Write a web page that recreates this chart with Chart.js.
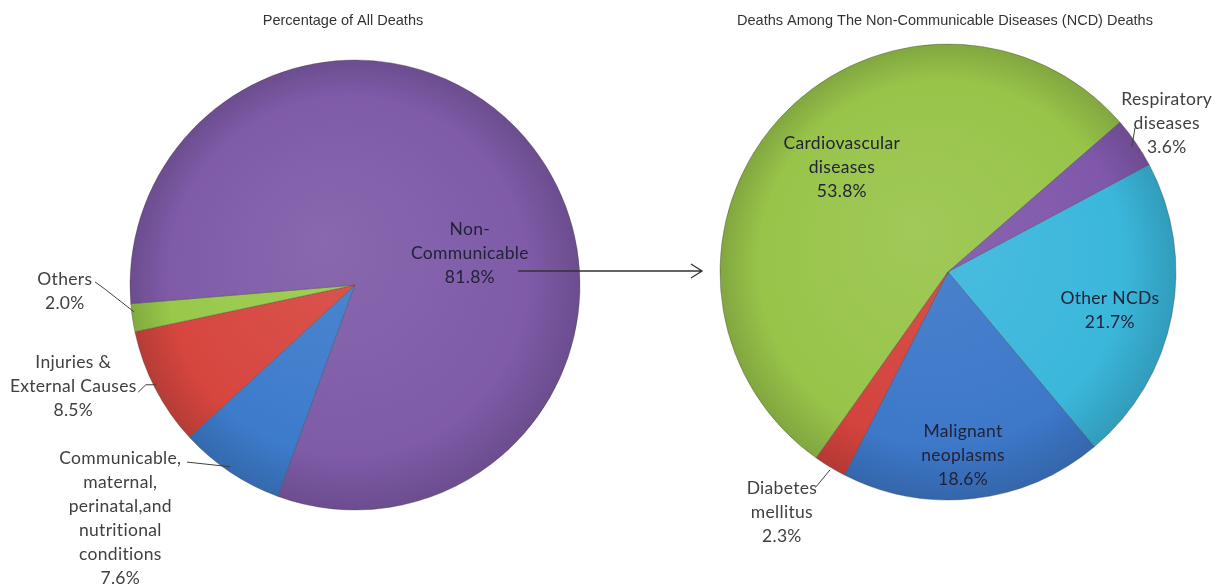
<!DOCTYPE html>
<html>
<head>
<meta charset="utf-8">
<script src="https://cdn.jsdelivr.net/npm/chart.js@4.4.1/dist/chart.umd.min.js"></script>
<style>
  body { margin: 0; background: #fff; width: 1217px; height: 585px; overflow: hidden; }
  #left { position: absolute; left: 0; top: 0; }
  #right { position: absolute; left: 705px; top: 0; }
</style>
</head>
<body>
<canvas id="left" width="720" height="585"></canvas>
<canvas id="right" width="512" height="585"></canvas>
<script>
// ---- data ----
const allTitle = 'Percentage of All Deaths';
const allCategories = ['Communicable, maternal, perinatal,and nutritional conditions', 'Injuries & External Causes', 'Others', 'Non-Communicable'];
const allValues = [7.6, 8.5, 2.0, 81.8];
const allColors = ['#3d7bcb', '#d6463f', '#98c94a', '#7f5ba8'];

const ncdTitle = 'Deaths Among The Non-Communicable Diseases (NCD) Deaths';
const ncdCategories = ['Cardiovascular diseases', 'Respiratory diseases', 'Other NCDs', 'Malignant neoplasms', 'Diabetes mellitus'];
const ncdValues = [53.8, 3.6, 21.7, 18.6, 2.3];
const ncdColors = ['#98c44a', '#8058ab', '#3bb7dc', '#3d78c9', '#d4433d'];

// label text lines for each slice (same order as categories)
const allLabelLines = [
  ['Communicable,', 'maternal,', 'perinatal,and', 'nutritional', 'conditions'],
  ['Injuries &', 'External Causes'],
  ['Others'],
  ['Non-', 'Communicable']
];
const ncdLabelLines = [
  ['Cardiovascular', 'diseases'],
  ['Respiratory', 'diseases'],
  ['Other NCDs'],
  ['Malignant', 'neoplasms'],
  ['Diabetes', 'mellitus']
];

// label placement: polar (deg clockwise from top, fraction of radius), optional leader
const allLabelPos = [
  { a: 225.2, d: 1.47, leader: [[223.5, 1.085], [214.5, 0.98]], outside: true },
  { a: 250.3, d: 1.33, leader: [[243.7, 1.075], [244.5, 1.03], [243.4, 0.99]], outside: true },
  { a: 268.8, d: 1.29, leader: [[270.7, 1.156], [269.0, 1.11], [263.1, 0.99]], outside: true },
  { a: 74.4, d: 0.53 }
];
const ncdLabelPos = [
  { a: 314.7, d: 0.655 },
  { a: 55.8, d: 1.16, leader: [[52.4, 1.035], [55.8, 0.975]], outside: true },
  { a: 103.5, d: 0.73 },
  { a: 175.3, d: 0.805 },
  { a: 214.7, d: 1.28, leader: [[211.6, 1.11], [210.8, 1.01]], outside: true }
];

const FONT = '17.5px Lato, "Open Sans", sans-serif';

const shade = (hex, f) => {
  const n = parseInt(hex.slice(1), 16);
  let r = (n >> 16) & 255, g = (n >> 8) & 255, b = n & 255;
  const m = v => Math.max(0, Math.min(255, Math.round(f > 0 ? v + (255 - v) * f : v * (1 + f))));
  return `rgb(${m(r)},${m(g)},${m(b)})`;
};

const gradientFill = (colors) => (ctx) => {
  const chart = ctx.chart;
  const area = chart.chartArea;
  const base = colors[ctx.dataIndex];
  if (!area) return base;
  const cx = (area.left + area.right) / 2;
  const cy = (area.top + area.bottom) / 2;
  const r = chart.options.radius || Math.min(area.width, area.height) / 2;
  const g = chart.ctx.createRadialGradient(cx - r * 0.15, cy - r * 0.2, 0, cx, cy, r);
  g.addColorStop(0, shade(base, 0.08));
  g.addColorStop(0.8, base);
  g.addColorStop(1, shade(base, -0.15));
  return g;
};

const polar = (arc, a, d) => {
  const t = a * Math.PI / 180;
  return [arc.x + Math.sin(t) * arc.outerRadius * d, arc.y - Math.cos(t) * arc.outerRadius * d];
};

const labelPlugin = {
  id: 'sliceLabels',
  afterDraw(chart) {
    const o = chart.options.plugins.sliceLabels;
    const ctx = chart.ctx;
    const meta = chart.getDatasetMeta(0);
    const values = chart.data.datasets[0].data;
    ctx.save();
    // title
    ctx.font = '14.5px "Liberation Sans", Arial, sans-serif';
    ctx.fillStyle = '#333';
    ctx.textAlign = 'center';
    ctx.textBaseline = 'middle';
    ctx.fillText(o.title, o.titleX, 21);

    ctx.font = FONT;
    ctx.letterSpacing = '0.3px'; // also stops the "ti" ligature
    meta.data.forEach((arc, i) => {
      const p = o.pos[i];
      const lines = o.lines[i].concat([values[i].toFixed(1) + '%']);
      const [x, y] = polar(arc, p.a, p.d);
      const lh = 24;
      ctx.fillStyle = p.outside ? '#404040' : '#222238';
      lines.forEach((ln, k) => {
        ctx.fillText(ln, x, y + (k - (lines.length - 1) / 2) * lh);
      });
      if (p.leader) {
        ctx.strokeStyle = '#404040';
        ctx.lineWidth = 1;
        ctx.beginPath();
        p.leader.forEach((pt, k) => {
          const [lx, ly] = polar(arc, pt[0], pt[1]);
          if (k === 0) ctx.moveTo(lx, ly); else ctx.lineTo(lx, ly);
        });
        ctx.stroke();
      }
    });

    // arrow from the NCD slice to the second chart
    if (o.arrow) {
      const arc = meta.data[0];
      const ay = arc.y - 14;
      const x0 = arc.x + 163, x1 = 702;
      ctx.strokeStyle = '#333';
      ctx.lineWidth = 1.3;
      ctx.beginPath();
      ctx.moveTo(x0, ay);
      ctx.lineTo(x1, ay);
      ctx.moveTo(x1 - 11, ay - 7);
      ctx.lineTo(x1, ay);
      ctx.lineTo(x1 - 11, ay + 7);
      ctx.stroke();
    }
    ctx.restore();
  }
};

const makePie = (id, labels, values, colors, rotation, radius, padding, pluginOpts) => {
  const ctx = document.querySelector(id).getContext('2d');
  return new Chart(ctx, {
    type: 'pie',
    data: {
      labels,
      datasets: [{
        data: values,
        backgroundColor: gradientFill(colors),
        borderColor: 'rgba(60,60,60,0.35)',
        borderWidth: 1
      }]
    },
    options: {
      responsive: false,
      animation: false,
      rotation,
      radius,
      layout: { padding },
      plugins: {
        legend: { display: false },
        tooltip: { enabled: false },
        sliceLabels: pluginOpts
      }
    },
    plugins: [labelPlugin]
  });
};

makePie('#left', allCategories, allValues, allColors, 200, 225,
  { left: 0, right: 10, top: 40, bottom: 55 },
  { title: allTitle, titleX: 343, lines: allLabelLines, pos: allLabelPos, arrow: true });

makePie('#right', ncdCategories, ncdValues, ncdColors, 215.3, 228,
  { left: 15, right: 41, top: 40, bottom: 81 },
  { title: ncdTitle, titleX: 240, lines: ncdLabelLines, pos: ncdLabelPos });
</script>
</body>
</html>
